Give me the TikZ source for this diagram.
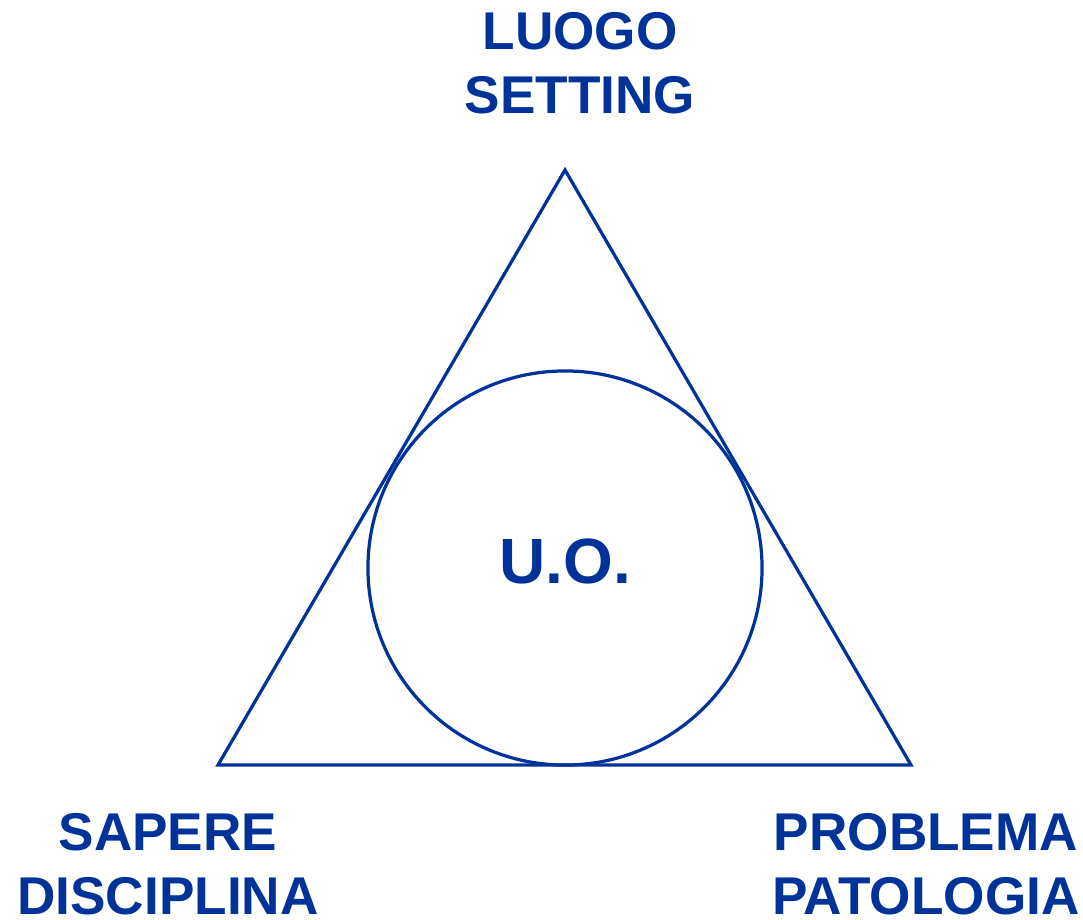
\documentclass[tikz,border=0pt]{standalone}
\usepackage{fontspec}
\setmainfont{Liberation Sans}
\usepackage{tikz}
\usetikzlibrary{calc}
\definecolor{uoblue}{RGB}{0,51,153}

\begin{document}
\begin{tikzpicture}[x = 0.025cm, y = -0.025cm,
    every node/.style = {text = uoblue, font = \bfseries\fontsize{37.8}{45.5}\selectfont, align = center, inner sep = 0pt}]
            \useasboundingbox(0,0)rectangle(1083,919);
            % vertici
            \coordinate(top)at(565,170);
            \coordinate(left)at(218,765);
            \coordinate(right)at(911,765);
            \path[draw, uoblue, line width = 2.3pt, line join = miter](top)--(left)--(right)--cycle;
            % U.O.
            \coordinate(uo)at(565,568);
            \path[draw, uoblue, line width = 2.3pt](uo)circle(4.925cm);
            \node[font = \bfseries\fontsize{45.5}{50}\selectfont](uolabel)at(565,561){U.O.};
            % etichette
            \node(luogo)at(580,63){LUOGO\\SETTING};
            \node(sapere)at(168,864){SAPERE\\DISCIPLINA};
            \node(problema)at(926,864){PROBLEMA\\PATOLOGIA};
        \end{tikzpicture}
\end{document}
